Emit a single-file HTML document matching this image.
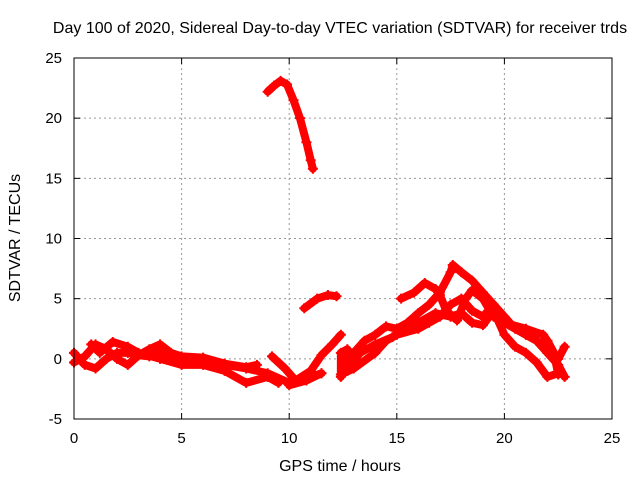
<!DOCTYPE html>
<html><head><meta charset="utf-8"><style>
body{margin:0;background:#fff;}
svg{display:block;font-family:"Liberation Sans",sans-serif;}
</style></head><body>
<svg id="chart" width="640" height="480">
<text x="340" y="33" font-size="16" text-anchor="middle">Day 100 of 2020, Sidereal Day-to-day VTEC variation (SDTVAR) for receiver trds</text>
<text x="340" y="471" font-size="16" text-anchor="middle">GPS time / hours</text>
<text transform="translate(20,238) rotate(-90)" font-size="16" text-anchor="middle">SDTVAR / TECUs</text>
<g id="grid"></g><g id="marks"></g>
<rect x="74" y="58" width="538" height="361" fill="none" stroke="#000" stroke-width="1"/>
</svg>
<script>
const xTicks=[0,5,10,15,20,25];
const yTicks=[-5,0,5,10,15,20,25];
const trackA=[[0,0.5],[0.5,-0.5],[1,-0.8],[1.5,0],[2,0.5],[2.5,0.5],[3,0.3],[3.5,0.2],[4,0.5],[4.5,0.2],[5,0],[6,-0.3],[7,-0.5],[8,-0.8],[9,-1.2],[10,-2],[11,-1.5],[11.5,-1.2]];
const trackB=[[0,-0.3],[0.5,0.2],[1,1.2],[1.5,0.8],[2,0],[2.5,-0.5],[3,0.3],[3.5,0.8],[4,1.2],[4.5,0.5],[5,0.2],[6,0.1],[7,-0.4],[8,-0.7],[8.5,-0.5]];
const trackC=[[0.8,1.2],[1.2,0.5],[1.8,1.4],[2.5,1],[3,0.5],[4,0],[5,-0.5],[6,-0.5],[7,-1],[8,-2],[9,-1.5],[9.5,-2]];
const trackD=[[9.2,0.2],[9.8,-0.8],[10.3,-1.8],[11,-1],[11.5,0.3],[12,1.2],[12.4,2]];
const trackE=[[10,-2.2],[10.8,-1.8],[11.5,-1.2]];
const trackPeak=[[9,22.2],[9.3,22.7],[9.6,23.1],[9.9,22.8],[10.2,21.5],[10.5,20],[10.8,18],[11,16.5],[11.1,15.8]];
const trackF=[[10.7,4.2],[11.3,5],[11.8,5.3],[12.2,5.2]];
const trackG=[[12.4,-1.3],[13,-0.8],[14,0.5],[14.5,1.5],[15,2],[16,2.5],[16.5,3],[17,3.5],[17.5,4.5],[18,5],[18.5,4],[19,3.5],[19.5,4.5],[20,3],[21,2],[21.5,1.5],[22,0.5],[22.5,-0.5],[22.8,-1.5]];
const trackH=[[12.5,0],[13,0.5],[13.5,1.5],[14,2],[14.5,2.7],[15,2.5],[15.5,3],[16,3.8],[16.5,4.5],[17,5.5],[17.5,7.2],[17.6,7.8],[18,7.2],[18.5,6.5],[19,5.5],[19.5,4.5],[20,3.5],[20.5,2.5],[21,2],[21.5,1.5],[22,1],[22.5,0],[22.8,1]];
const trackI=[[15.2,5],[15.8,5.5],[16.3,6.3],[16.8,5.8],[17,5.3],[17.3,4],[17.8,3.2],[18.2,5],[18.5,5.7],[19,5],[19.5,3.5],[20,3],[21,2.5],[21.8,2],[22,1.5],[22.3,0.5],[22.5,-1.3]];
const trackJ=[[12.6,-1],[13.3,0.5],[14,1.2],[14.8,1.8],[15.5,2.5],[16,3],[16.8,3.8],[17.5,3.5],[18,3.8],[18.5,3],[19,2.8],[19.5,4],[20,2],[20.5,1],[21,0.5],[21.5,-0.3],[22,-1.5],[22.5,-1.2]];
const trackK=[[12.4,-1.5],[12.4,0.5],[12.7,0.8],[12.7,-1]];
const tracks=[trackA,trackB,trackC,trackD,trackE,trackPeak,trackF,trackG,trackH,trackI,trackJ,trackK];
const X=h=>74+h*538/25, Y=v=>419-(v+5)*361/30;
const NS="http://www.w3.org/2000/svg";
const grid=document.getElementById('grid'), marks=document.getElementById('marks'), svg=document.getElementById('chart');
function mk(tag,at,parent){const e=document.createElementNS(NS,tag);for(const k in at)e.setAttribute(k,at[k]);parent.appendChild(e);return e;}
xTicks.forEach(t=>{
  const x=X(t);
  if(t>0&&t<25){const l=mk('line',{x1:x,x2:x,y1:58,y2:419,stroke:'#999','stroke-dasharray':'2,3'},grid);
  
  }
  mk('line',{x1:x,x2:x,y1:419,y2:413,stroke:'#000'},grid);
  mk('line',{x1:x,x2:x,y1:58,y2:64,stroke:'#000'},grid);
  const tx=mk('text',{x:x,y:443,'font-size':15,'text-anchor':'middle'},svg);tx.textContent=t;
  
  
});
yTicks.forEach(t=>{
  const y=Y(t);
  if(t>-5&&t<25){const l=mk('line',{x1:74,x2:612,y1:y,y2:y,stroke:'#999','stroke-dasharray':'2,3'},grid);
  
  }
  mk('line',{x1:74,x2:80,y1:y,y2:y,stroke:'#000'},grid);
  mk('line',{x1:612,x2:606,y1:y,y2:y,stroke:'#000'},grid);
  const tx=mk('text',{x:62,y:y+5,'font-size':15,'text-anchor':'end'},svg);tx.textContent=t;
  
  
});
tracks.forEach((tr,i)=>{
  const p=mk('polyline',{points:tr.map(d=>X(d[0])+','+Y(d[1])).join(' '),fill:'none',stroke:'#f00','stroke-width':8,'stroke-linejoin':'round','stroke-linecap':'round'},marks);
  
  
  tr.forEach(d=>{
    const x=X(d[0]),y=Y(d[1]);
    const m=mk('path',{d:`M${x-5},${y}H${x+5}M${x},${y-5}V${y+5}`,stroke:'#f00','stroke-width':2},marks);
    
    
  });
});
</script>
</body></html>
